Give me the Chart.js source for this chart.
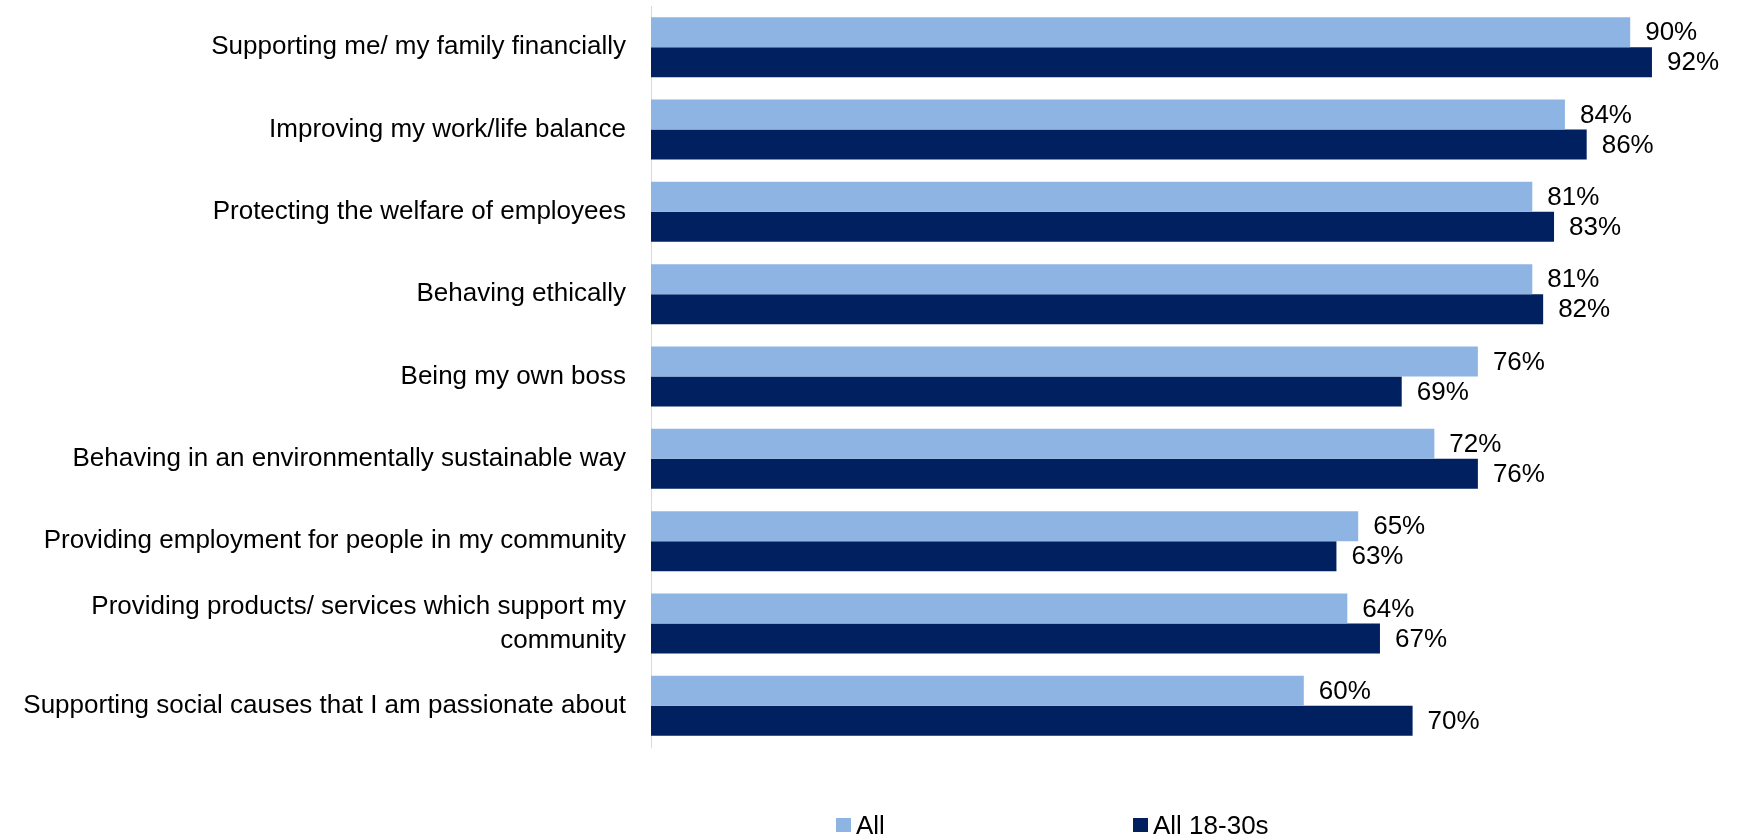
<!DOCTYPE html>
<html>
<head>
<meta charset="utf-8">
<title>Importance to business</title>
<script src="https://cdn.jsdelivr.net/npm/chart.js@4.4.1/dist/chart.umd.min.js"></script>
<style>
  html, body { margin: 0; padding: 0; background: #fff; }
  #wrap { position: relative; width: 1739px; height: 836px; overflow: hidden; }
  #legend { position: absolute; left: 0; top: 0; width: 100%; height: 100%; pointer-events: none;
            font-family: "Liberation Sans", Arial, sans-serif; font-size: 26px; color: #000; }
  .lg-item { position: absolute; top: 812px; line-height: 26px; white-space: nowrap; }
  .lg-box { position: absolute; left: 0; top: 6px; width: 15px; height: 14px; }
  .lg-text { position: absolute; left: 20px; top: 0; }
</style>
</head>
<body>
<div id="wrap">
  <canvas id="chart" width="1739" height="836"></canvas>
  <div id="legend"></div>
</div>
<script>
'use strict';

// ─── Data ──────────────────────────────────────────────────────────────────────
const categories = [
  'Supporting me/ my family financially',
  'Improving my work/life balance',
  'Protecting the welfare of employees',
  'Behaving ethically',
  'Being my own boss',
  'Behaving in an environmentally sustainable way',
  'Providing employment for people in my community',
  ['Providing products/ services which support my', 'community'],
  'Supporting social causes that I am passionate about'
];
const allValues   = [90, 84, 81, 81, 76, 72, 65, 64, 60];
const youngValues = [92, 86, 83, 82, 69, 76, 63, 67, 70];
const seriesNames  = ['All', 'All 18-30s'];
const seriesColors = ['#8EB4E3', '#002060'];

const FONT = '"Liberation Sans", Arial, sans-serif';
const legendLeft = [836, 1133];

// ─── Value labels at bar ends ──────────────────────────────────────────────────
const valueLabels = {
  id: 'valueLabels',
  afterDatasetsDraw(chart) {
    const ctx = chart.ctx;
    ctx.save();
    ctx.font = '26px ' + FONT;
    ctx.fillStyle = '#000';
    ctx.textAlign = 'left';
    ctx.textBaseline = 'middle';
    chart.data.datasets.forEach((ds, i) => {
      chart.getDatasetMeta(i).data.forEach((bar, j) => {
        ctx.fillText(ds.data[j] + '%', bar.x + 15, bar.y + 1);
      });
    });
    ctx.restore();
  }
};

const chart = new Chart(document.getElementById('chart'), {
  type: 'bar',
  data: {
    labels: categories,
    datasets: [
      { label: seriesNames[0], data: allValues,   backgroundColor: seriesColors[0], borderWidth: 0 },
      { label: seriesNames[1], data: youngValues, backgroundColor: seriesColors[1], borderWidth: 0 }
    ]
  },
  options: {
    indexAxis: 'y',
    responsive: false,
    animation: false,
    categoryPercentage: 0.729,
    barPercentage: 1.0,
    layout: { padding: { top: 6, bottom: 89, left: 0, right: 0 } },
    plugins: {
      legend: { display: false },
      tooltip: { enabled: false }
    },
    scales: {
      x: { min: 0, max: 100, display: false },
      y: {
        grid: { display: false, drawTicks: false },
        border: { display: true, color: '#D0DCEC', width: 1 },
        ticks: {
          color: '#000',
          padding: 25,
          font: { family: FONT, size: 26, lineHeight: 1.3 }
        },
        afterFit(scale) {
          scale.width = 651;
          scale.paddingTop = 0;
          scale.paddingBottom = 0;
        }
      }
    }
  },
  plugins: [valueLabels]
});

// ─── Legend ────────────────────────────────────────────────────────────────────
const legendEl = document.getElementById('legend');
chart.data.datasets.forEach((ds, i) => {
  const item = document.createElement('div');
  item.className = 'lg-item';
  item.style.left = legendLeft[i] + 'px';
  const box = document.createElement('span');
  box.className = 'lg-box';
  box.style.background = ds.backgroundColor;
  const txt = document.createElement('span');
  txt.className = 'lg-text';
  txt.textContent = ds.label;
  item.appendChild(box);
  item.appendChild(txt);
  legendEl.appendChild(item);
});
</script>
</body>
</html>
